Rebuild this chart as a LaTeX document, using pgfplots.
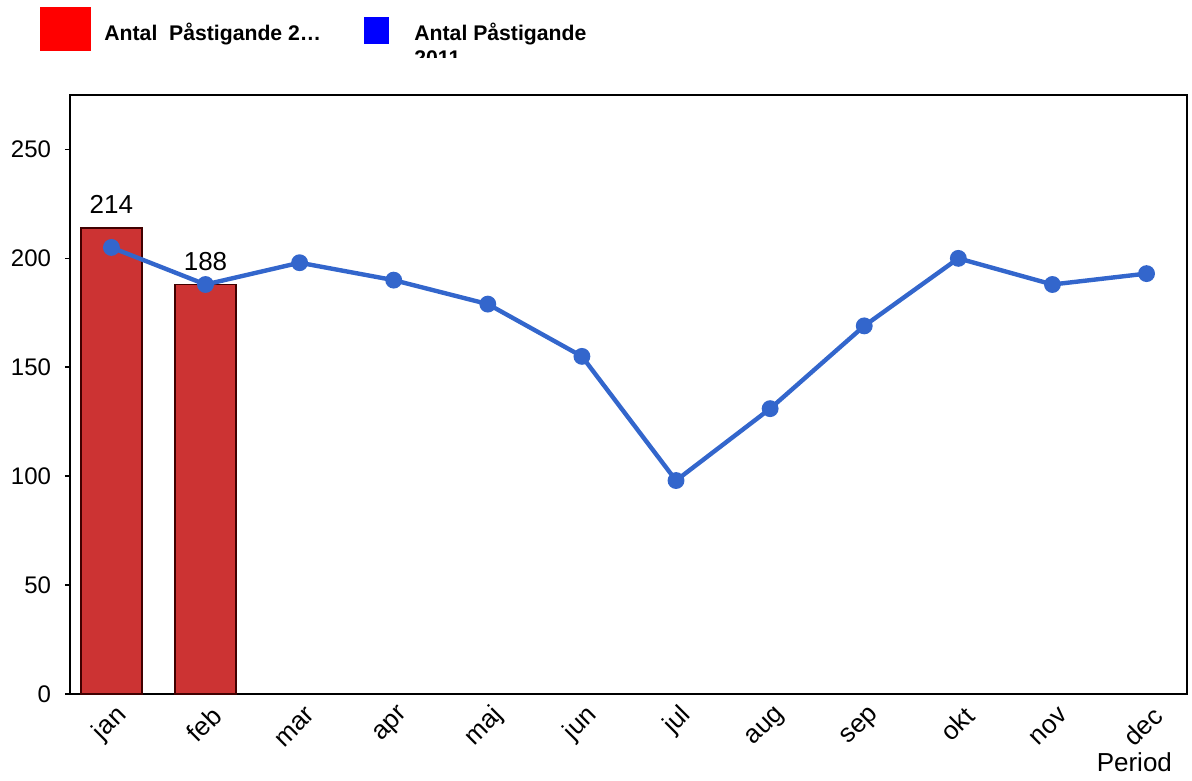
\documentclass[border=0pt]{standalone}
\usepackage{fontspec}
\setmainfont{Liberation Sans}
\usepackage{pgfplots}
\pgfplotsset{compat=1.18}
\definecolor{barred}{HTML}{CC3333}
\definecolor{baredge}{HTML}{400000}
\definecolor{linblue}{HTML}{3366CC}
\newcommand{\tickfont}{\fontsize{12bp}{14.4bp}\selectfont}
\newcommand{\xfont}{\fontsize{13bp}{15.6bp}\selectfont}
\newcommand{\legfont}{\fontsize{10.6bp}{12.7bp}\selectfont\bfseries}
\begin{document}
\begin{tikzpicture}
\useasboundingbox (-35bp,-43.5bp) rectangle (561bp,347bp);
\begin{axis}[
  at={(0,0)}, anchor=south west,
  scale only axis, width=558.5bp, height=299.5bp,
  xmin=-0.44, xmax=11.43, ymin=0, ymax=275,
  xtick={0,...,11},
  xticklabels={jan,feb,mar,apr,maj,jun,jul,aug,sep,okt,nov,dec},
  ytick={0,50,100,150,200,250},
  ytick pos=left, xtick pos=bottom,
  tick align=outside,
  major tick length=2.5bp,
  major tick style={line width=0.8bp, black},
  major x tick style={draw=none},
  axis line style={line width=1bp, black},
  yticklabel style={font=\tickfont, anchor=east, xshift=-3.5bp},
  /pgf/number format/assume math mode=true,
  xticklabel style={font=\xfont, rotate=45, anchor=east, yshift=-8.5bp, xshift=3bp},
  xlabel={Period},
  xlabel style={at={(axis description cs:0.9928,0)}, anchor=base east, yshift=-38.5bp, font=\xfont},
  clip=false,
]
\addplot[ybar, bar width=0.65, fill=barred, draw=baredge, line width=0.75bp,
  nodes near coords,
  every node near coord/.append style={font=\xfont, anchor=base, yshift=7bp, black}]
  coordinates {(0,214) (1,188)};
\addplot[linblue, line width=2.2bp, sharp plot, mark=*, mark size=3.1bp,
  mark options={solid, fill=linblue, draw=linblue}]
  coordinates {(0,205) (1,188) (2,198) (3,190) (4,179) (5,155) (6,98) (7,131) (8,169) (9,200) (10,188) (11,193)};
\end{axis}
% legend
\fill[red] (-15bp,321.5bp) rectangle (10.5bp,343.5bp);
\node[anchor=base west, inner sep=0pt, font=\legfont] at (17bp,326.6bp) {Antal\ \ Påstigande 2…};
\fill[blue] (147bp,325bp) rectangle (159.5bp,338.5bp);
\node[anchor=base west, inner sep=0pt, font=\legfont] at (172bp,326.5bp) {Antal Påstigande};
\begin{scope}
\clip (170bp,318bp) rectangle (260bp,345bp);
\node[anchor=base west, inner sep=0pt, font=\legfont] at (172bp,314bp) {2011};
\end{scope}
\end{tikzpicture}
\end{document}
